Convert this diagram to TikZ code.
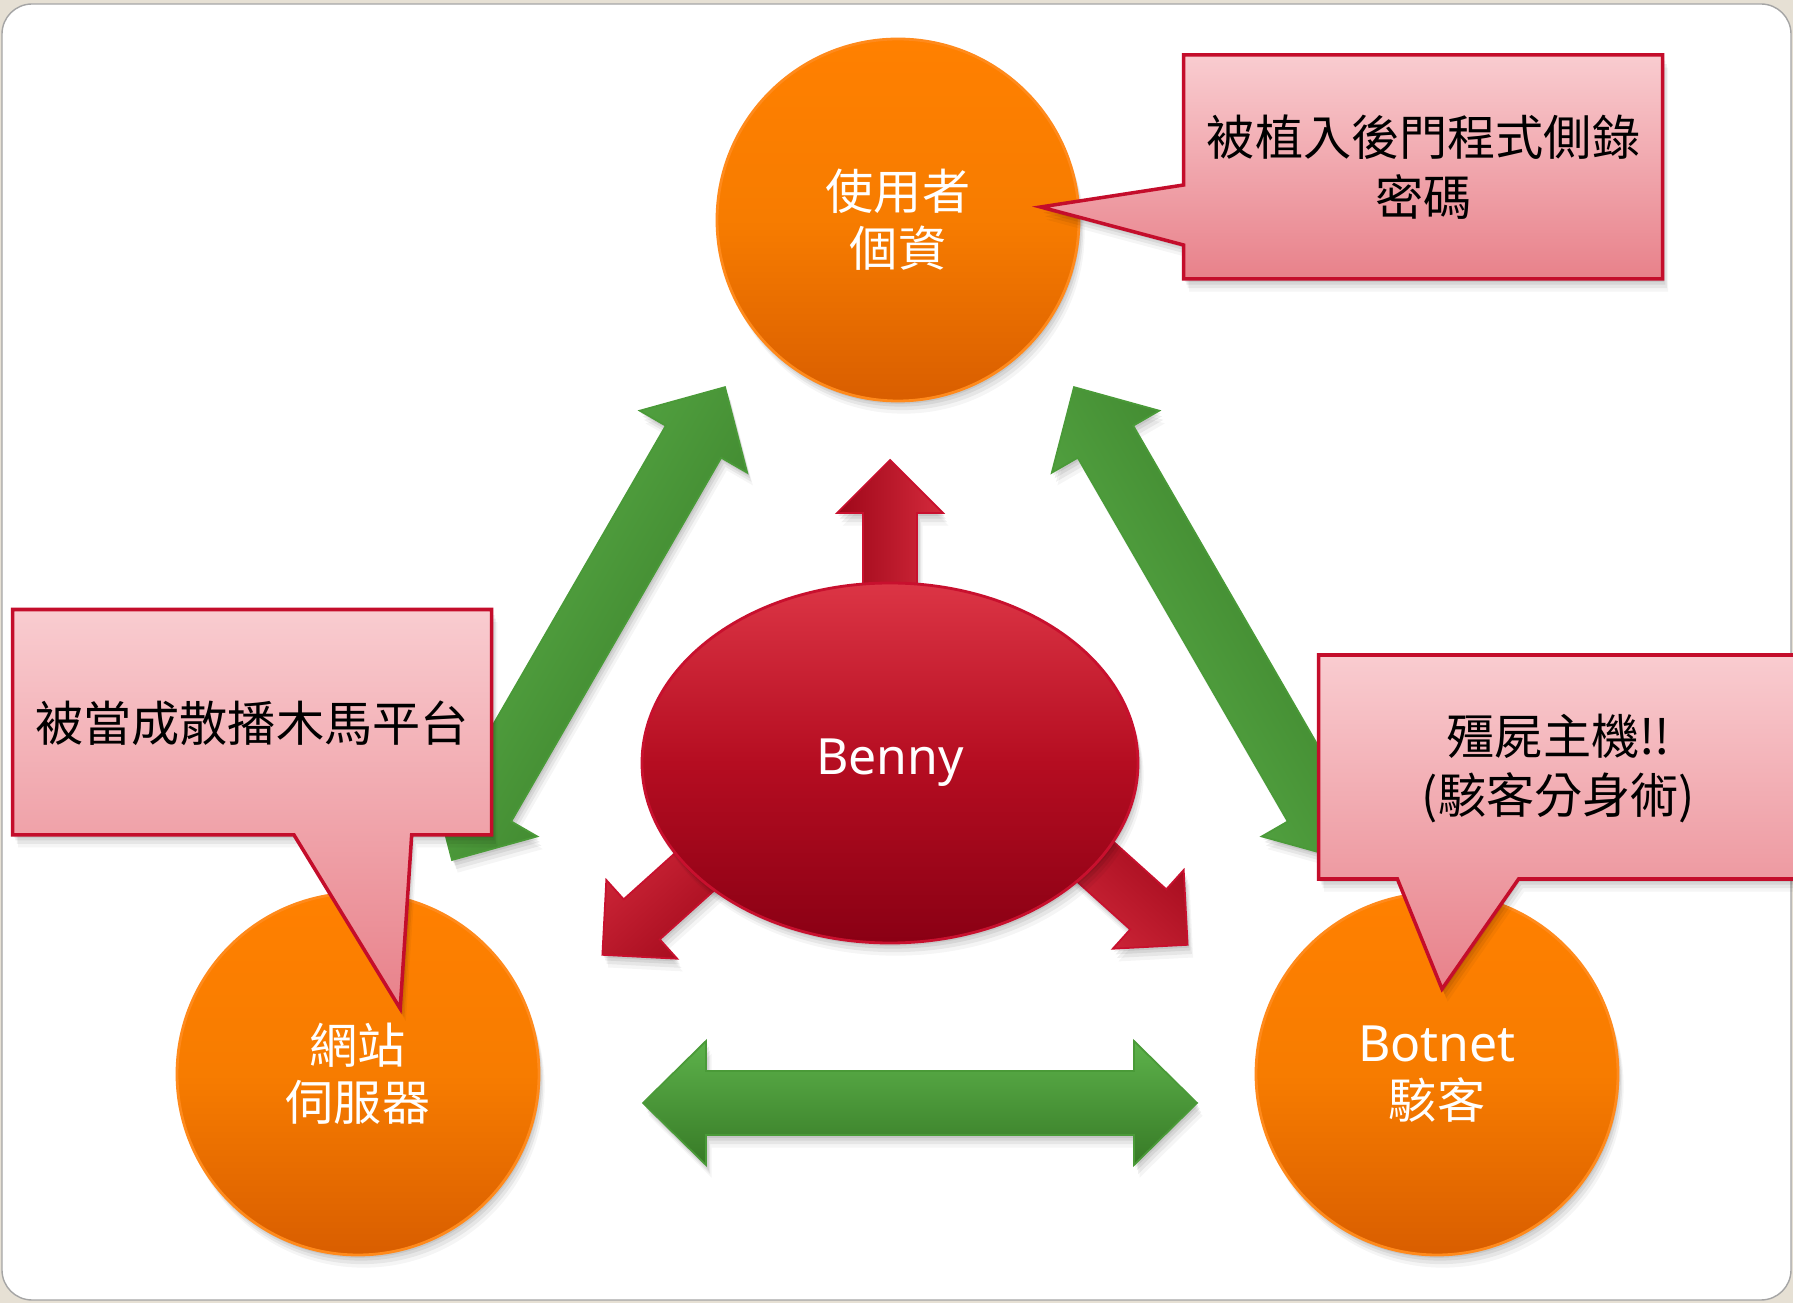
\documentclass[tikz,border=0pt]{standalone}
\usepackage{fontspec}
\setmainfont{Noto Sans}
\newfontfamily\cjk{Noto Sans CJK TC}
\newfontfamily\latn{Noto Sans}
\usetikzlibrary{shapes.geometric,shadows}

\definecolor{bgbeige}{HTML}{E6E0D4}
\definecolor{panelline}{HTML}{A5A5A5}
\definecolor{orgtop}{HTML}{FF8000}
\definecolor{orgmid}{HTML}{F77C00}
\definecolor{orgbot}{HTML}{D95E00}
\definecolor{orgline}{HTML}{FF8A1C}
\definecolor{bentop}{HTML}{DC3545}
\definecolor{benmid}{HTML}{B50D21}
\definecolor{benbot}{HTML}{8A0014}
\definecolor{benline}{HTML}{C8102E}
\definecolor{pinktop}{HTML}{F9CCD0}
\definecolor{pinkbot}{HTML}{E8818A}
\definecolor{pinkline}{HTML}{C40D2B}
\definecolor{grnlight}{HTML}{5DB24B}
\definecolor{grndark}{HTML}{377A26}
\definecolor{grnline}{HTML}{4A9A38}
\definecolor{redlight}{HTML}{D42A3C}
\definecolor{reddark}{HTML}{9E0719}

\newcommand{\greenarrow}[3]{%
  \shade[greenshape, shading angle=#2, shift={(#1)}, rotate=#2]
    (0,0) -- (63,62) -- (63,32) -- ({#3-63},32) -- ({#3-63},62) -- (#3,0)
    -- ({#3-63},-62) -- ({#3-63},-32) -- (63,-32) -- (63,-62) -- cycle;}
\newcommand{\redarrow}[3]{%
  \shade[redshape, shading angle=#2, shift={(#1)}, rotate=#2]
    (0,-27) -- ({#3-53},-27) -- ({#3-53},-53) -- (#3,0)
    -- ({#3-53},53) -- ({#3-53},27) -- (0,27) -- cycle;}

\begin{document}
\begin{tikzpicture}[x=0.1mm, y=0.1mm,
    softshadow/.style={
      drop shadow={shadow xshift=0.4pt, shadow yshift=-0.8pt, opacity=0.07, fill=black},
      drop shadow={shadow xshift=0.8pt, shadow yshift=-1.6pt, opacity=0.07, fill=black},
      drop shadow={shadow xshift=1.2pt, shadow yshift=-2.6pt, opacity=0.06, fill=black},
      drop shadow={shadow xshift=1.6pt, shadow yshift=-3.6pt, opacity=0.04, fill=black}},
    bubble/.style={circle, minimum size=36.2mm, inner sep=0pt, draw=orgline, line width=0.8pt,
      top color=orgtop, bottom color=orgbot, middle color=orgmid, softshadow,
      text=white, align=center, font=\cjk\fontsize{13.7}{16.2}\selectfont},
    core/.style={ellipse, minimum width=49.6mm, minimum height=36mm, inner sep=0pt, draw=benline, line width=0.8pt,
      top color=bentop, bottom color=benbot, middle color=benmid, softshadow,
      text=white, font=\latn\fontsize{14.2}{17}\selectfont},
    note/.style={draw=pinkline, line width=1pt, top color=pinktop, bottom color=pinkbot, softshadow},
    notetext/.style={align=center, inner sep=0pt, font=\cjk\fontsize{13.7}{17}\selectfont},
    greenshape/.style={draw=grnline, line width=0.5pt, top color=grnlight, bottom color=grndark, softshadow},
    redshape/.style={draw=benline, line width=0.5pt, top color=reddark, bottom color=redlight, softshadow}]

  \useasboundingbox (0,0) rectangle (1793,1303);
  \clip (0,0) rectangle (1793,1303);
  \fill[bgbeige] (0,0) rectangle (1793,1303);
  \draw[panelline, fill=white, rounded corners=3mm] (2,3) rectangle (1791,1299);

  \coordinate (gl) at (452,443);
  \coordinate (gr) at (1347,443);
  \coordinate (gb) at (643,200);
  \greenarrow{gl}{60}{546}
  \greenarrow{gr}{120}{546}
  \greenarrow{gb}{0}{554}

  \coordinate (ru) at (890,700);
  \coordinate (rl) at (751,482);
  \coordinate (rr) at (1039,492);
  \redarrow{ru}{90}{143}
  \redarrow{rl}{222}{200}
  \redarrow{rr}{318}{200}

  \node[core] (benny) at (890,540) {Benny};
  \node[bubble] (user) at (898,1083) {使用者\\個資};
  \node[bubble] (web) at (358,229) {網站\\伺服器};
  \node[bubble] (bot) at (1437,229) {{\latn\fontsize{14.2}{16.2}\selectfont Botnet}\\駭客};

  \draw[note] (1183.5,1248) -- (1662.6,1248) -- (1662.6,1024) -- (1183.5,1024)
    -- (1183.5,1058) -- (1040.6,1096) -- (1183.5,1118) -- cycle;
  \draw[note] (12.6,693.5) -- (491.7,693.5) -- (491.7,468.2) -- (411.7,468.2)
    -- (400.2,294.4) -- (293.9,468.2) -- (12.6,468.2) -- cycle;
  \draw[note] (1318.5,648) -- (1810,648) -- (1810,424) -- (1518.6,424)
    -- (1442,314) -- (1397.4,424) -- (1318.5,424) -- cycle;
  \node[notetext] (noteU) at (1423.6,1136) {被植入後門程式側錄\\密碼};
  \node[notetext] (noteL) at (252,580) {被當成散播木馬平台};
  \node[notetext] (noteR) at (1558.6,534.5) {殭屍主機!!\\(駭客分身術)};
\end{tikzpicture}
\end{document}
